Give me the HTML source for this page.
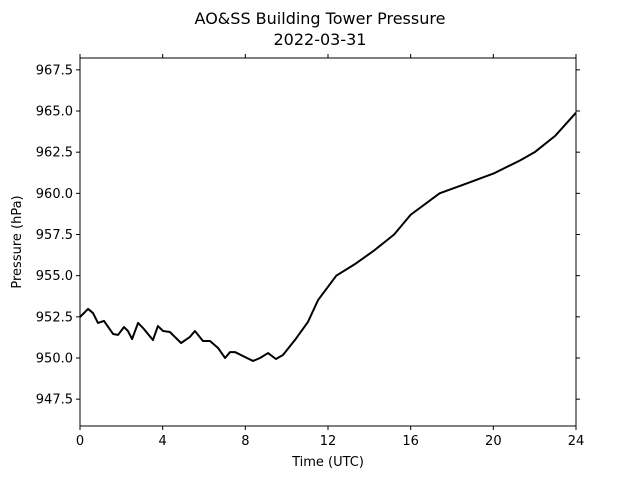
<!DOCTYPE html>
<html><head><meta charset="utf-8"><style>
html,body{margin:0;padding:0;background:#fff;}
svg{display:block;font-family:"DejaVu Sans","Liberation Sans",sans-serif;}
</style></head><body>
<svg id="chart" width="640" height="480" viewBox="0 0 640 480">
<text x="320" y="24" text-anchor="middle" font-size="16">AO&amp;SS Building Tower Pressure</text>
<text x="320" y="45" text-anchor="middle" font-size="16">2022-03-31</text>
<g id="axes"></g>
<text x="328" y="466" text-anchor="middle" font-size="13">Time (UTC)</text>
<text transform="translate(21,242) rotate(-90)" text-anchor="middle" font-size="13">Pressure (hPa)</text>
</svg>
<script>
const times = [0,0.39,0.63,0.87,1.16,1.6,1.84,2.13,2.32,2.52,2.81,3.05,3.53,3.77,4.02,4.35,4.89,5.32,5.56,5.95,6.29,6.68,7.02,7.26,7.5,7.98,8.37,8.71,9.1,9.48,9.82,10.4,11.03,11.52,12.4,13.3,14.2,15.2,16,17.4,18.5,20,21.3,22,23,24];
const pressures = [952.49,952.98,952.73,952.13,952.25,951.46,951.4,951.88,951.64,951.15,952.13,951.82,951.09,951.94,951.64,951.58,950.91,951.28,951.64,951.03,951.03,950.61,950.0,950.36,950.36,950.06,949.82,950.0,950.3,949.94,950.18,951.09,952.19,953.52,955.0,955.7,956.5,957.5,958.7,960.0,960.5,961.2,962.0,962.5,963.5,964.9];
const xTicks = [0,4,8,12,16,20,24];
const yTicks = [947.5,950.0,952.5,955.0,957.5,960.0,962.5,965.0,967.5];
const yTickLabels = ["947.5","950.0","952.5","955.0","957.5","960.0","962.5","965.0","967.5"];

const L=80,R=576,T=58,B=426;
const xMin=0,xMax=24,yMin=945.87,yMax=968.22;
function xs(t){return L+(t-xMin)/(xMax-xMin)*(R-L);}
function ys(p){return B-(p-yMin)/(yMax-yMin)*(B-T);}
const NS="http://www.w3.org/2000/svg";
const g=document.getElementById('axes');
function mk(tag,attrs){const e=document.createElementNS(NS,tag);for(const k in attrs)e.setAttribute(k,attrs[k]);g.appendChild(e);return e;}

const frame=mk('rect',{x:L,y:T,width:R-L,height:B-T,fill:'none',stroke:'#000','stroke-width':1});



xTicks.forEach(v=>{
  const x=xs(v);
  const t1=mk('line',{x1:x,y1:B,x2:x,y2:B+4,stroke:'#000'});
  
  
  const t2=mk('line',{x1:x,y1:T,x2:x,y2:T-4,stroke:'#000'});
  
  
  const lb=mk('text',{x:x,y:B+19,'text-anchor':'middle','font-size':13});
  lb.textContent=String(v);
  
  
});
yTicks.forEach((v,i)=>{
  const y=ys(v);
  const t1=mk('line',{x1:L-4,y1:y,x2:L,y2:y,stroke:'#000'});
  
  
  const t2=mk('line',{x1:R,y1:y,x2:R+4,y2:y,stroke:'#000'});
  
  
  const lb=mk('text',{x:L-7,y:y+4.5,'text-anchor':'end','font-size':13});
  lb.textContent=yTickLabels[i];
  
  
});
const d=times.map((t,i)=>(i?'L':'M')+xs(t).toFixed(2)+','+ys(pressures[i]).toFixed(2)).join(' ');
const line=mk('path',{d:d,fill:'none',stroke:'#000','stroke-width':2,'stroke-linejoin':'round'});


</script>
</body></html>
